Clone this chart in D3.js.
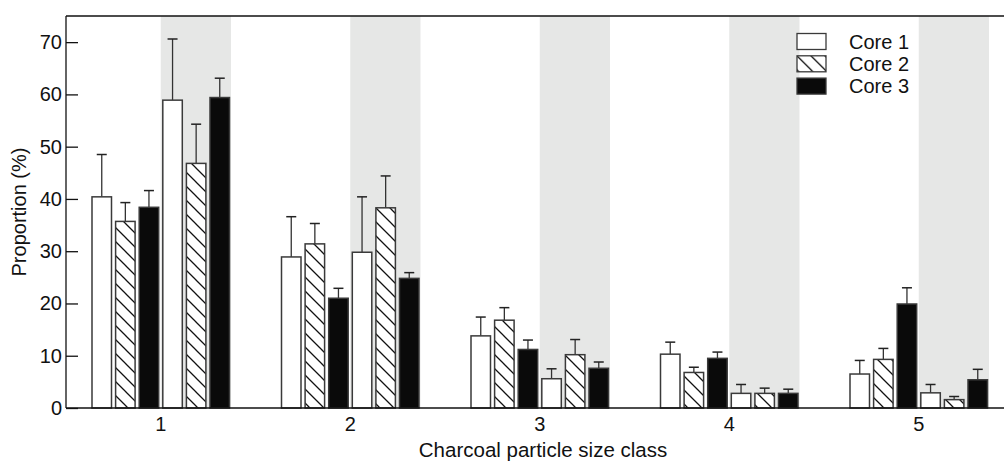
<!DOCTYPE html>
<html>
<head>
<meta charset="utf-8">
<script src="https://cdn.jsdelivr.net/npm/d3@7"></script>
<style>
  body { margin: 0; background: #fff; }
  svg { display: block; font-family: "Liberation Sans", Arial, sans-serif; }
</style>
</head>
<body>
<script>
// size classes on the x axis
var classes = ["1", "2", "3", "4", "5"];
var yTicks = [0, 10, 20, 30, 40, 50, 60, 70];
var coreNames = ["Core 1", "Core 2", "Core 3"];

// first set (white background), means and upper error
var core1A = [40.4, 28.9, 13.8, 10.3, 6.5];
var core1AErr = [8.1, 7.7, 3.6, 2.3, 2.6];
var core2A = [35.7, 31.4, 16.8, 6.8, 9.3];
var core2AErr = [3.6, 3.9, 2.4, 1.0, 2.1];
var core3A = [38.4, 21.0, 11.2, 9.5, 19.9];
var core3AErr = [3.2, 1.9, 1.8, 1.2, 3.1];

// second set (grey background)
var core1B = [58.9, 29.8, 5.6, 2.8, 2.9];
var core1BErr = [11.7, 10.6, 1.9, 1.7, 1.6];
var core2B = [46.8, 38.3, 10.2, 2.8, 1.6];
var core2BErr = [7.5, 6.1, 2.9, 1.0, 0.6];
var core3B = [59.4, 24.8, 7.6, 2.8, 5.4];
var core3BErr = [3.7, 1.1, 1.2, 0.8, 2.0];

var svgWidth = 1004;
var svgHeight = 463;
var margin = { top: 16, left: 66, bottom: 55 };
var plotBottom = svgHeight - margin.bottom;

var svg = d3.select("body")
  .append("svg")
  .attr("width", svgWidth)
  .attr("height", svgHeight);

// hatch pattern for core 2
var defs = svg.append("defs");
var pat = defs.append("pattern")
  .attr("id", "hatch")
  .attr("patternUnits", "userSpaceOnUse")
  .attr("width", 14)
  .attr("height", 14);
pat.append("rect").attr("width", 14).attr("height", 14).attr("fill", "#fff");
pat.append("path")
  .attr("d", "M-2,-2 L16,16 M12,-2 L16,2 M-2,12 L2,16")
  .attr("stroke", "#111")
  .attr("stroke-width", 1.3);

var fills = ["#fff", "url(#hatch)", "#0a0a0a"];

// flatten into bar records
var means = [core1A, core2A, core3A, core1B, core2B, core3B];
var errs = [core1AErr, core2AErr, core3AErr, core1BErr, core2BErr, core3BErr];
var bars = [];
classes.forEach(function(c, i) {
  means.forEach(function(m, j) {
    bars.push({ cls: c, slot: j, core: j % 3, value: m[i], err: errs[j][i] });
  });
});

var xScale = d3.scaleBand()
  .domain(classes)
  .range([margin.left, margin.left + 5 * 189.5])
  .padding(0);

var xInner = d3.scaleBand()
  .domain(d3.range(6))
  .range([-70.8, 70.8])
  .paddingInner(0.174)
  .paddingOuter(0.087);

var yScale = d3.scaleLinear()
  .domain([0, 75])
  .range([plotBottom, margin.top]);

function center(c) { return xScale(c) + xScale.bandwidth() / 2; }

// grey bands behind the second set
svg.selectAll("rect.band")
  .data(classes)
  .enter()
  .append("rect")
  .attr("class", "band")
  .attr("x", function(c) { return center(c); })
  .attr("y", margin.top)
  .attr("width", xInner(5) + xInner.bandwidth() + 1.5)
  .attr("height", plotBottom - margin.top)
  .attr("fill", "#e6e7e6");

// error bars
var eg = svg.append("g");
eg.selectAll("line.ev")
  .data(bars)
  .enter()
  .append("line")
  .attr("x1", function(d) { return center(d.cls) + xInner(d.slot) + xInner.bandwidth() / 2; })
  .attr("x2", function(d) { return center(d.cls) + xInner(d.slot) + xInner.bandwidth() / 2; })
  .attr("y1", function(d) { return yScale(d.value); })
  .attr("y2", function(d) { return yScale(d.value + d.err); })
  .attr("stroke", "#333")
  .attr("stroke-width", 1.3);
eg.selectAll("line.cap")
  .data(bars)
  .enter()
  .append("line")
  .attr("x1", function(d) { return center(d.cls) + xInner(d.slot) + xInner.bandwidth() / 2 - 5; })
  .attr("x2", function(d) { return center(d.cls) + xInner(d.slot) + xInner.bandwidth() / 2 + 5; })
  .attr("y1", function(d) { return yScale(d.value + d.err); })
  .attr("y2", function(d) { return yScale(d.value + d.err); })
  .attr("stroke", "#222")
  .attr("stroke-width", 1.5);

// the bars
svg.append("g").selectAll("rect")
  .data(bars)
  .enter()
  .append("rect")
  .attr("x", function(d) { return center(d.cls) + xInner(d.slot); })
  .attr("y", function(d) { return yScale(d.value); })
  .attr("width", xInner.bandwidth())
  .attr("height", function(d) { return plotBottom - yScale(d.value); })
  .attr("fill", function(d) { return fills[d.core]; })
  .attr("stroke", "#3a3a3a")
  .attr("stroke-width", 1.5);

// frame line on top
svg.append("line")
  .attr("x1", margin.left).attr("x2", svgWidth)
  .attr("y1", margin.top).attr("y2", margin.top)
  .attr("stroke", "#111").attr("stroke-width", 1.3);

// y axis with inward ticks
var leftAxis = d3.axisRight(yScale).tickValues(yTicks).tickSize(12);
var yg = svg.append("g")
  .attr("transform", "translate(" + margin.left + ",0)")
  .call(leftAxis);
yg.select(".domain").remove();
yg.selectAll(".tick line").attr("stroke", "#111").attr("stroke-width", 1.3);
yg.selectAll(".tick text")
  .attr("x", -4)
  .attr("text-anchor", "end")
  .attr("fill", "#111")
  .style("font-size", "20px")
  .style("font-family", "Liberation Sans, Arial, sans-serif");
svg.append("line")
  .attr("x1", margin.left).attr("x2", margin.left)
  .attr("y1", margin.top).attr("y2", plotBottom)
  .attr("stroke", "#111").attr("stroke-width", 1.3);

// x axis
var bottomAxis = d3.axisBottom(xScale).tickSize(0).tickPadding(9);
var xg = svg.append("g")
  .attr("transform", "translate(0," + plotBottom + ")")
  .call(bottomAxis);
xg.select(".domain").remove();
xg.selectAll(".tick text")
  .attr("fill", "#111")
  .style("font-size", "20px")
  .style("font-family", "Liberation Sans, Arial, sans-serif");
svg.append("line")
  .attr("x1", margin.left).attr("x2", svgWidth)
  .attr("y1", plotBottom).attr("y2", plotBottom)
  .attr("stroke", "#111").attr("stroke-width", 1.3);

// axis titles
svg.append("text")
  .attr("transform", "translate(26," + (margin.top + plotBottom) / 2 + ") rotate(-90)")
  .attr("text-anchor", "middle")
  .attr("fill", "#111")
  .style("font-size", "20px")
  .text("Proportion (%)");

svg.append("text")
  .attr("x", 543)
  .attr("y", 457)
  .attr("text-anchor", "middle")
  .attr("fill", "#111")
  .style("font-size", "20.5px")
  .text("Charcoal particle size class");

// legend
var legend = svg.append("g").attr("transform", "translate(797,33.5)");
var li = legend.selectAll("g")
  .data(coreNames)
  .enter()
  .append("g")
  .attr("transform", function(d, i) { return "translate(0," + i * 22.3 + ")"; });
li.append("rect")
  .attr("width", 29)
  .attr("height", 16)
  .attr("fill", function(d, i) { return fills[i]; })
  .attr("stroke", "#3a3a3a")
  .attr("stroke-width", 1.3);
li.append("text")
  .attr("x", 52)
  .attr("y", 8)
  .attr("dy", "0.36em")
  .attr("fill", "#111")
  .style("font-size", "20px")
  .text(function(d) { return d; });
</script>
</body>
</html>
